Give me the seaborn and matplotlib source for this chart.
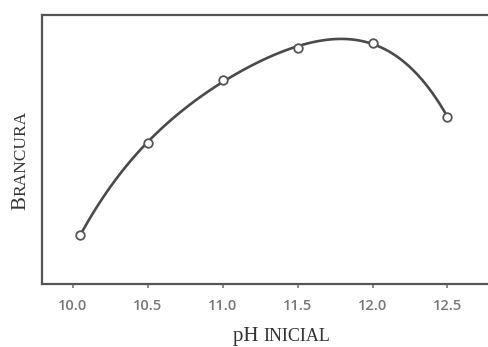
import matplotlib
matplotlib.use("Agg")
import matplotlib.pyplot as plt
import seaborn as sns
import pandas as pd

# datos (brancura en unidades arbitrarias 0-100)
ph_inicial = [10.05, 10.5, 11.0, 11.5, 12.0, 12.5]
brancura = [18.2, 52.4, 75.8, 87.7, 89.6, 62.1]
x_ticks = [10.0, 10.5, 11.0, 11.5, 12.0, 12.5]
x_tick_labels = ["10.0", "10.5", "11.0", "11.5", "12.0", "12.5"]

df = pd.DataFrame({"ph": ph_inicial, "brancura": brancura})

sns.set_theme(style="white")
plt.rcParams["font.family"] = ["DejaVu Sans"]

fig = plt.figure(figsize=(4.88, 3.47), dpi=100)
ax = fig.add_axes([0.086, 0.1816, 0.92, 0.775])

# curva suave ajustada a los puntos
sns.regplot(data=df, x="ph", y="brancura", order=4, ci=None, scatter=False,
            truncate=True, ax=ax, line_kws=dict(color="#4a4a4a", lw=1.9))
sns.scatterplot(data=df, x="ph", y="brancura", ax=ax, s=38, marker="o",
                facecolor="white", edgecolor="#555555", linewidth=1.3, zorder=5)

ax.set_xlim(9.795, 12.79)
ax.set_ylim(0, 100)
ax.set_yticks([])
ax.set_xticks(x_ticks)
ax.set_xticklabels(x_tick_labels, fontsize=10.5, color="#777777", fontweight="semibold",
                   family="Open Sans")
ax.tick_params(axis="x", direction="out", length=3, width=1.2, color="#777777", pad=8,
               bottom=True)
ax.set_xlabel("")
ax.set_ylabel("")

for side in ["left", "top", "bottom"]:
    ax.spines[side].set_color("#555555")
    ax.spines[side].set_linewidth(1.6)
ax.spines["right"].set_visible(False)

serif = "Liberation Serif"
tcol = "#333333"

# etiqueta del eje y en versalitas: "B" grande + "RANCURA" pequeña
tb = fig.text(25 / 488, 1 - 210 / 347, "B", rotation=90, rotation_mode="anchor",
              ha="left", va="baseline", fontsize=15, family=serif, color=tcol)
ax.annotate("RANCURA", xy=(25 / 488, 1), xycoords=("figure fraction", tb),
            rotation=90, rotation_mode="anchor", ha="left", va="baseline",
            fontsize=12.5, family=serif, color=tcol, annotation_clip=False)

# etiqueta del eje x: "pH " + "INICIAL" pequeña
tp = fig.text(233 / 488, 1 - 341 / 347, "pH ", ha="left", va="baseline",
              fontsize=15, family=serif, color=tcol)
ax.annotate("INICIAL", xy=(1, 1 - 341 / 347), xycoords=(tp, "figure fraction"),
            ha="left", va="baseline", fontsize=13, family=serif, color=tcol,
            annotation_clip=False)

fig.savefig("out.png", dpi=100)
